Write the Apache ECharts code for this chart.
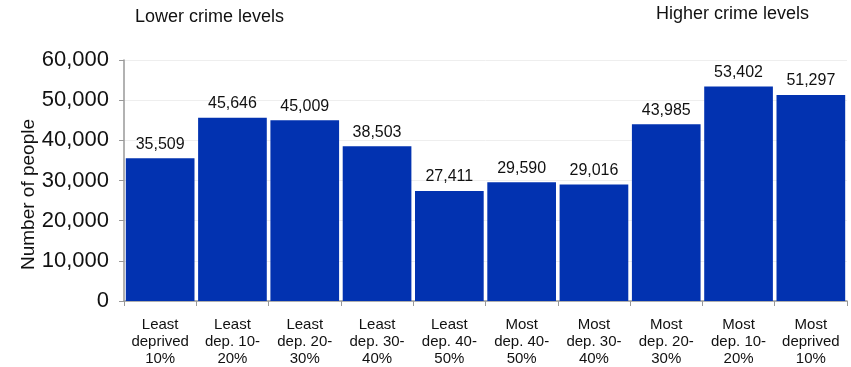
<!DOCTYPE html>
<html><head><meta charset="utf-8">
<script src="https://cdn.jsdelivr.net/npm/echarts@6/dist/echarts.min.js"></script>
<style>html,body{margin:0;padding:0;background:#fff}#c{width:851px;height:367px}</style>
</head><body><div id="c"></div>
<script>
const categories = ["Least\ndeprived\n10%","Least\ndep. 10-\n20%","Least\ndep. 20-\n30%","Least\ndep. 30-\n40%","Least\ndep. 40-\n50%","Most\ndep. 40-\n50%","Most\ndep. 30-\n40%","Most\ndep. 20-\n30%","Most\ndep. 10-\n20%","Most\ndeprived\n10%"];
const values = [35509,45646,45009,38503,27411,29590,29016,43985,53402,51297];
const yTicks = {min:0,max:60000,interval:10000};
const titles = ["Lower crime levels","Higher crime levels"];
const font = "Liberation Sans, Arial, sans-serif";
const chart = echarts.init(document.getElementById('c'));
chart.setOption({
  animation:false,
  textStyle:{fontFamily:font},
  title:[
    {text:titles[0],left:130,top:3,textStyle:{fontSize:18,fontWeight:'normal',color:'#111',fontFamily:font}},
    {text:titles[1],left:651,top:0,textStyle:{fontSize:18,fontWeight:'normal',color:'#111',fontFamily:font}}
  ],
  grid:{left:124,right:4,top:60,bottom:66,containLabel:false},
  xAxis:{type:'category',data:categories,
    axisLine:{lineStyle:{color:'#999',width:1.5}},
    axisTick:{show:true,length:5,lineStyle:{color:'#999'}},
    axisLabel:{color:'#111',fontSize:15,lineHeight:17,margin:15,interval:0,fontFamily:font}},
  yAxis:{type:'value',min:yTicks.min,max:yTicks.max,interval:yTicks.interval,
    name:'Number of people',nameLocation:'middle',nameGap:86,nameMoveOverlap:false,
    nameTextStyle:{fontSize:19,color:'#111',fontFamily:font,padding:[0,28,0,0]},
    axisLine:{show:true,lineStyle:{color:'#999',width:1.5}},
    axisTick:{show:true,length:5,lineStyle:{color:'#999'}},
    splitLine:{lineStyle:{color:'#eeeeee'}},
    axisLabel:{color:'#111',fontSize:22,margin:15,fontFamily:font,
      formatter:v=>v.toLocaleString('en-US')}},
  series:[{type:'bar',data:values,barCategoryGap:'5%',
    itemStyle:{color:'#0232B0'},
    label:{show:true,position:'top',distance:6,fontSize:16,color:'#111',fontFamily:font,
      formatter:p=>p.value.toLocaleString('en-US')}}]
});
</script></body></html>
